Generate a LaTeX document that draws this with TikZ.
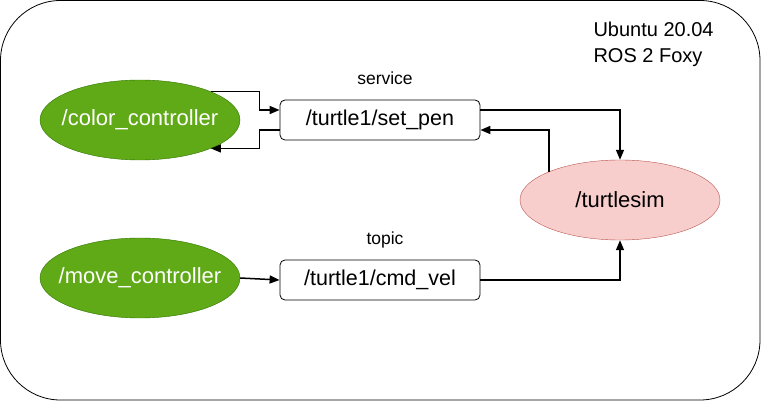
\documentclass[tikz,border=0pt]{standalone}
\usepackage{fontspec}
\setmainfont{Liberation Sans}
\usetikzlibrary{shapes.geometric,arrows.meta}
\definecolor{nodegreen}{HTML}{60A917}
\definecolor{nodegreenline}{HTML}{2D7600}
\definecolor{simpink}{HTML}{F8CECC}
\definecolor{simpinkline}{HTML}{B85450}
\tikzset{
	rosnode/.style={ellipse,minimum width=200pt,minimum height=80pt,inner sep=0pt},
	rostext/.style={font=\fontsize{22}{26}\selectfont},
	ctrlnode/.style={rosnode,fill=nodegreen,draw=nodegreenline,
		label={[rostext,text=white]center:#1}},
	simnode/.style={rosnode,fill=simpink,draw=simpinkline,label={[rostext]center:#1}},
	ifacebox/.style={draw,line width=0.8pt,rounded corners=5pt,minimum width=200pt,minimum height=40pt,
		inner sep=0pt,font=\fontsize{21.5}{25}\selectfont},
	kindlabel/.style={font=\fontsize{17.5}{21}\selectfont},
	conn/.style={line width=1.5pt,-{Triangle[length=10pt,width=8pt]}}
}
\begin{document}
\begin{tikzpicture}[x=1pt,y=-1pt]
		\useasboundingbox (0,0) rectangle (761,401);
		\draw[line width=0.8pt,rounded corners=60pt] (0.5,0.5) rectangle (760,400);
		\node[anchor=west,font=\fontsize{20}{24}\selectfont] (os) at (590,29) {Ubuntu 20.04};
		\node[anchor=west,font=\fontsize{20}{24}\selectfont] (distro) at (590,58) {ROS 2 Foxy};
		\node[ctrlnode=/color\_controller] (cc) at (140,120) {};
		\node[ctrlnode=/move\_controller] (mc) at (140,278) {};
		\node[simnode=/turtlesim] (ts) at (620,200) {};
		\node[ifacebox] (sp) at (380,120) {/turtle1/set\_pen};
		\node[ifacebox] (cv) at (380,280) {/turtle1/cmd\_vel};
		\node[kindlabel] (srv) at (385,78) {service};
		\node[kindlabel] (tpc) at (385,240) {topic};
		% service
		\draw[conn] (cc.north east) -- ([xshift=-20pt]sp.west |- cc.north east) |- ([yshift=10pt]sp.west);
		\draw[conn] ([yshift=-10pt]sp.west) -- ++(-20,0) |- (cc.south east);
		\draw[conn] ([yshift=10pt]sp.east) -| (ts.north);
		\draw[conn] (ts.north west) |- ([yshift=-10pt]sp.east);
		% topic
		\draw[conn] (mc.east) -- (cv.west);
		\draw[conn] (cv.east) -| (ts.south);
	\end{tikzpicture}
\end{document}
